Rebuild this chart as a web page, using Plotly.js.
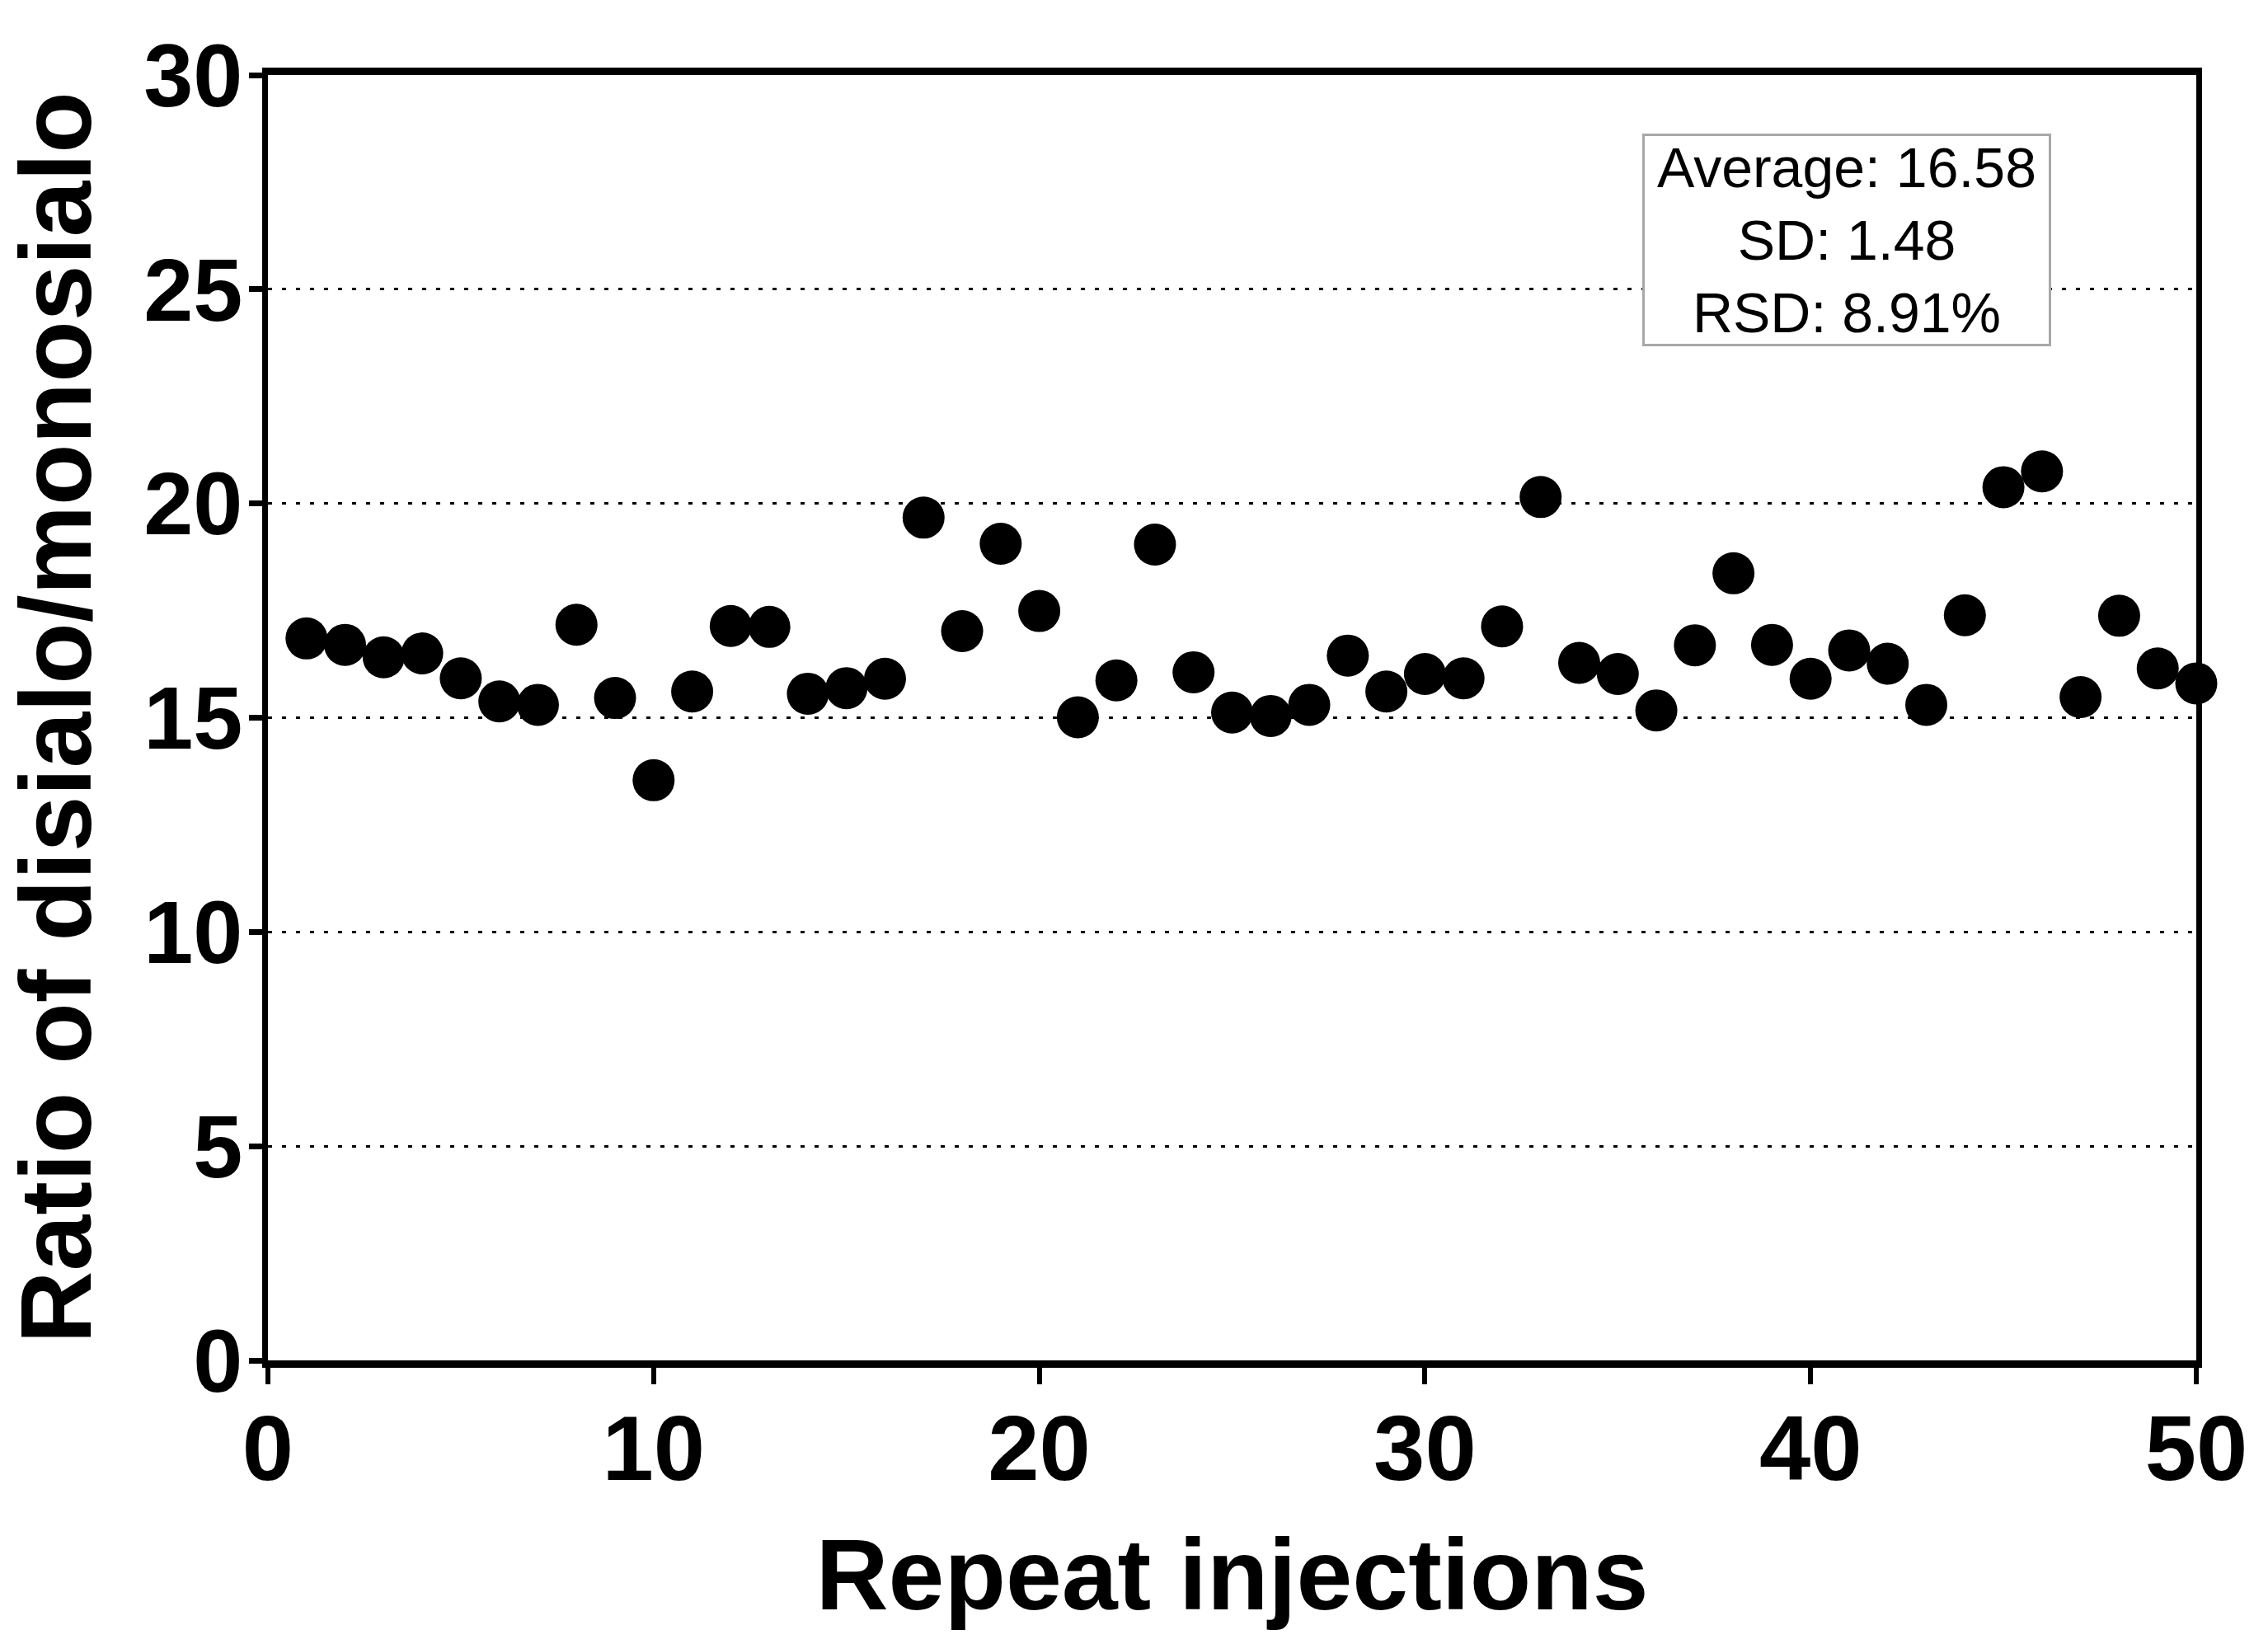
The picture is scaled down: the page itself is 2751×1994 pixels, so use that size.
<!DOCTYPE html>
<html>
<head>
<meta charset="utf-8">
<script src="https://cdn.plot.ly/plotly-3.0.1.min.js"></script>
<style>
  html, body { margin: 0; padding: 0; background: #ffffff; }
  #chart { width: 2751px; height: 1994px; }
</style>
</head>
<body>
<div id="chart"></div>
<script>
// Injection number (x) and measured ratio of disialo/monosialo (y)
const injections = [1, 2, 3, 4, 5, 6, 7, 8, 9, 10,
                    11, 12, 13, 14, 15, 16, 17, 18, 19, 20,
                    21, 22, 23, 24, 25, 26, 27, 28, 29, 30,
                    31, 32, 33, 34, 35, 36, 37, 38, 39, 40,
                    41, 42, 43, 44, 45, 46, 47, 48, 49, 50];
const ratios = [16.85, 16.70, 16.41, 16.50, 15.92, 15.38, 15.30, 17.17, 15.46, 13.54,
                15.61, 17.14, 17.12, 15.56, 15.69, 15.91, 19.67, 17.02, 19.06, 17.49,
                15.01, 15.87, 19.04, 16.06, 15.12, 15.04, 15.30, 16.45, 15.61, 16.02,
                15.92, 17.13, 20.15, 16.28, 16.02, 15.17, 16.69, 18.37, 16.70, 15.91,
                16.57, 16.26, 15.30, 17.39, 20.38, 20.75, 15.48, 17.38, 16.15, 15.80];
const xTicks = [0, 10, 20, 30, 40, 50];
const yTicks = [0, 5, 10, 15, 20, 25, 30];
const statsLines = ["Average: 16.58", "SD: 1.48", "RSD: 8.91%"];

const FONT = "'Liberation Sans', Arial, Helvetica, sans-serif";

const trace = {
  x: injections,
  y: ratios,
  type: "scatter",
  mode: "markers",
  cliponaxis: false,
  marker: { symbol: "circle", size: 51, color: "#000000", line: { width: 0 } },
  hoverinfo: "x+y"
};

const layout = {
  width: 2751,
  height: 1994,
  paper_bgcolor: "#ffffff",
  plot_bgcolor: "#ffffff",
  showlegend: false,
  margin: { l: 325, r: 87, t: 91, b: 344, pad: 0 },
  xaxis: {
    range: [0, 50],
    tickvals: xTicks,
    ticktext: xTicks.map(String),
    ticks: "outside",
    ticklen: 20,
    tickwidth: 6,
    tickcolor: "#000000",
    ticklabelstandoff: -18,
    showline: true,
    linewidth: 9,
    linecolor: "#000000",
    mirror: true,
    showgrid: false,
    zeroline: false,
    tickfont: { family: FONT, size: 112, color: "#000000", weight: 700 },
    title: {
      text: "Repeat injections",
      font: { family: FONT, size: 122, color: "#000000", weight: 700 },
      standoff: 52
    }
  },
  yaxis: {
    range: [0, 30],
    tickvals: yTicks,
    ticktext: yTicks.map(String),
    ticks: "outside",
    ticklen: 16,
    tickwidth: 7,
    tickcolor: "#000000",
    ticklabelstandoff: -14,
    showline: true,
    linewidth: 7,
    linecolor: "#000000",
    mirror: true,
    showgrid: true,
    gridcolor: "#000000",
    gridwidth: 3,
    griddash: "5px,12px",
    zeroline: false,
    tickfont: { family: FONT, size: 108, color: "#000000", weight: 700 },
    title: {
      text: "Ratio of disialo/monosialo",
      font: { family: FONT, size: 122, color: "#000000", weight: 700 },
      standoff: 36
    }
  },
  annotations: [{
    xref: "paper", yref: "paper",
    x: 0.8187, y: 0.8717,
    xanchor: "center", yanchor: "middle",
    text: statsLines.join("<br>"),
    showarrow: false,
    align: "center",
    font: { family: FONT, size: 68, color: "#000000" },
    bgcolor: "#ffffff",
    bordercolor: "#a8a8a8",
    borderwidth: 3,
    borderpad: 0,
    width: 490,
    height: 252
  }]
};

Plotly.newPlot("chart", [trace], layout, { displayModeBar: false, staticPlot: true });
</script>
</body>
</html>
